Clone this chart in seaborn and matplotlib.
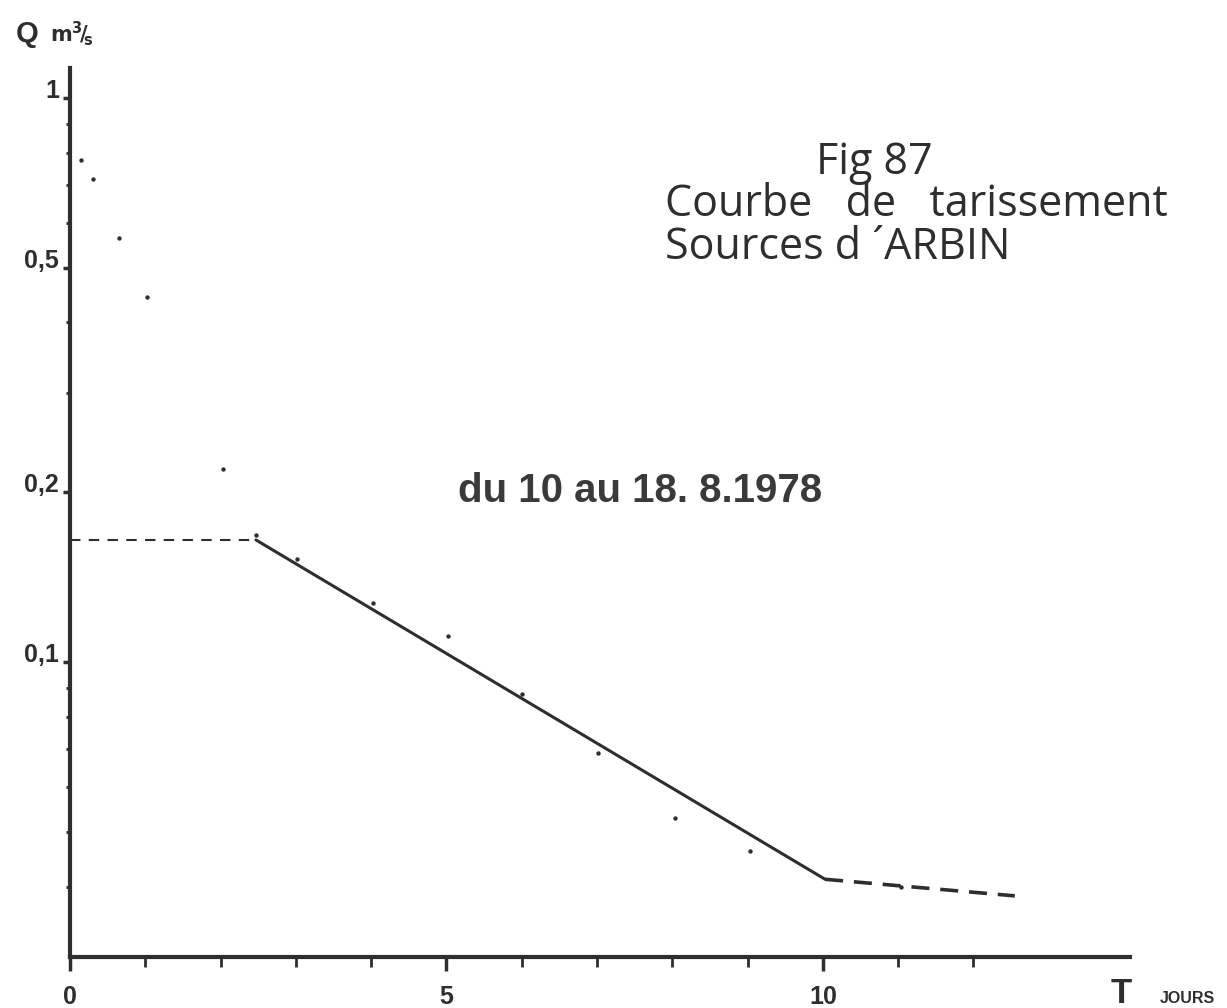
import numpy as np
import pandas as pd
import matplotlib
matplotlib.use("Agg")
import matplotlib.pyplot as plt
import seaborn as sns

# ---- data ----
days = [0.15, 0.30, 0.65, 1.02, 2.03, 2.47, 3.02, 4.03, 5.02, 6.01, 7.02, 8.03, 9.03, 11.04]
flow = [0.777, 0.719, 0.565, 0.443, 0.220, 0.168, 0.152, 0.127, 0.111, 0.0879, 0.069, 0.053, 0.0462, 0.0399]

plateau_x = [0.0, 2.47]
plateau_y = [0.1646, 0.1646]
recession_x = [2.47, 10.03]
recession_y = [0.1646, 0.0412]
tail_x = [10.03, 12.55]
tail_y = [0.0412, 0.0385]

ytick_vals = [1.0, 0.5, 0.2, 0.1]
ytick_labels = ["1", "0,5", "0,2", "0,1"]
yminor_vals = [0.9, 0.8, 0.7, 0.6, 0.4, 0.3, 0.09, 0.08, 0.07, 0.06, 0.05, 0.04]
xtick_vals = [0, 5, 10]
xtick_labels = ["0", "5", "10"]
xminor_vals = [1, 2, 3, 4, 6, 7, 8, 9, 11, 12]

title_lines = ["Fig 87", "Courbe   de   tarissement", "Sources d \u00b4ARBIN"]
period_text = "du 10 au 18. 8.1978"

sns.set_theme(style="white")
plt.rcParams["font.family"] = ["Liberation Sans", "DejaVu Sans"]

W, H = 1227, 1008
fig = plt.figure(figsize=(W / 100, H / 100), dpi=100)
fig.patch.set_facecolor("white")
ax = fig.add_axes([70 / W, 1 - 957 / H, (1130 - 70) / W, (957 - 68) / H])
ax.set_facecolor("white")

ink = "#2e2e2e"

df_pts = pd.DataFrame({"T": days, "Q": flow})
sns.scatterplot(data=df_pts, x="T", y="Q", ax=ax, color=ink, s=10, linewidth=0, zorder=5)

sns.lineplot(x=plateau_x, y=plateau_y, ax=ax, color=ink, lw=1.5, linestyle=(0, (5, 4)), sort=False)
sns.lineplot(x=recession_x, y=recession_y, ax=ax, color=ink, lw=2.2, sort=False)
sns.lineplot(x=tail_x, y=tail_y, ax=ax, color=ink, lw=2.6, linestyle=(0, (5, 3)), sort=False)

ax.set_yscale("log")
ax.set_xlim(0, 14.08)
ax.set_ylim(0.03, 1.13)

for s in ["top", "right"]:
    ax.spines[s].set_visible(False)
for s in ["left", "bottom"]:
    ax.spines[s].set_visible(True)
    ax.spines[s].set_color(ink)
    ax.spines[s].set_linewidth(3)

ax.set_yticks(ytick_vals)
ax.set_yticklabels(ytick_labels)
ax.set_yticks(yminor_vals, minor=True)
ax.yaxis.set_minor_formatter(matplotlib.ticker.NullFormatter())
ax.set_xticks(xtick_vals)
ax.set_xticklabels(xtick_labels)
ax.set_xticks(xminor_vals, minor=True)

ax.tick_params(axis="y", which="major", direction="out", length=5, width=2.5, color=ink,
               left=True, pad=3, labelsize=18, labelcolor=ink)
ax.tick_params(axis="y", which="minor", direction="out", length=3, width=2, color=ink, left=True)
ax.tick_params(axis="x", which="major", direction="out", length=10, width=2.5, color=ink,
               bottom=True, pad=10, labelsize=18, labelcolor=ink)
ax.tick_params(axis="x", which="minor", direction="out", length=7, width=2, color=ink, bottom=True)
for lab in ax.get_yticklabels():
    lab.set_fontweight("bold")
    lab.set_va("baseline")
for lab in ax.get_xticklabels():
    lab.set_fontweight("bold")

ax.set_xlabel("")
ax.set_ylabel("")

def fx(px):
    return px / W

def fy(py):
    return 1 - py / H

# axis titles
fig.text(fx(16), fy(42), "Q", fontsize=21, fontweight="bold", color=ink, ha="left", va="baseline")
fig.text(fx(50), fy(42), r"$\mathbf{m^3\!/\!_s}$", fontsize=15, color=ink, ha="left", va="baseline")
fig.text(fx(1111), fy(1003), "T", fontsize=25, fontweight="bold", color=ink, ha="left", va="baseline")
fig.text(fx(1160), fy(1003), "JOURS", fontsize=11.5, fontweight="bold", color=ink, ha="left", va="baseline")

# figure title (thin rounded lettering)
tfam = ["Open Sans", "DejaVu Sans"]
fig.text(fx(874), fy(174), title_lines[0], fontsize=31, family=tfam, fontweight="normal",
         color=ink, ha="center", va="baseline")
fig.text(fx(665), fy(216), title_lines[1], fontsize=31, family=tfam, fontweight="normal",
         color=ink, ha="left", va="baseline")
fig.text(fx(665), fy(259), title_lines[2], fontsize=31, family=tfam, fontweight="normal",
         color=ink, ha="left", va="baseline")

# period annotation
fig.text(fx(640), fy(502), period_text, fontsize=29, fontweight="bold", color="#3a3a3a",
         ha="center", va="baseline")

fig.savefig("out.png", dpi=100, facecolor="white")
